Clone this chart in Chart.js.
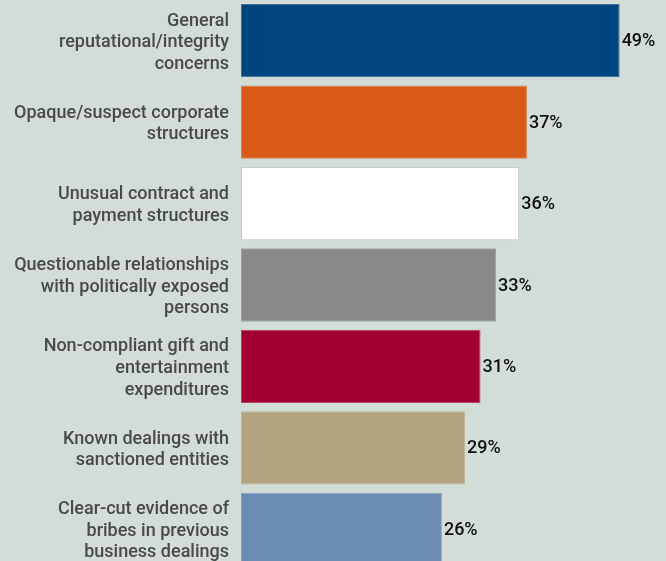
<!DOCTYPE html>
<html>
<head>
<meta charset="utf-8">
<script src="https://cdn.jsdelivr.net/npm/chart.js@4/dist/chart.umd.min.js"></script>
<style>
  html, body { margin: 0; padding: 0; background: #d3ddd8; overflow: hidden; }
  #wrap { position: relative; width: 666px; height: 570px; }
</style>
</head>
<body>
<div id="wrap"><canvas id="c" width="666" height="570"></canvas></div>
<script>
// Red-flag categories (multi-line labels) and share of respondents, in percent
const categories = [
  ["General", "reputational/integrity", "concerns"],
  ["Opaque/suspect corporate", "structures"],
  ["Unusual contract and", "payment structures"],
  ["Questionable relationships", "with politically exposed", "persons"],
  ["Non-compliant gift and", "entertainment", "expenditures"],
  ["Known dealings with", "sanctioned entities"],
  ["Clear-cut evidence of", "bribes in previous", "business dealings"]
];
const shares = [49, 37, 36, 33, 31, 29, 26];
const barColors = ["#00457f", "#d95919", "#ffffff", "#898989", "#a10031", "#b3a27f", "#6b8ab4"];
const edgeColors = ["#3f6e98", "#e07a45", "#c6cbc8", "#a0a3a1", "#b84460", "#c2b596", "#8aa1c2"];

// Writes "NN%" just past the end of each bar
const valueLabels = {
  id: "valueLabels",
  afterDatasetsDraw(chart) {
    const ctx = chart.ctx;
    const meta = chart.getDatasetMeta(0);
    ctx.save();
    ctx.font = "500 18px Roboto";
    ctx.fillStyle = "#111111";
    ctx.textAlign = "left";
    ctx.textBaseline = "middle";
    meta.data.forEach((bar, i) => {
      ctx.fillText(shares[i] + "%", bar.x + 2, bar.y + 1);
    });
    ctx.restore();
  }
};

new Chart(document.getElementById("c"), {
  type: "bar",
  data: {
    labels: categories,
    datasets: [{
      data: shares,
      backgroundColor: barColors,
      borderColor: edgeColors,
      borderWidth: 1,
      borderSkipped: false,
      categoryPercentage: 1,
      barPercentage: 0.9
    }]
  },
  options: {
    indexAxis: "y",
    responsive: false,
    animation: false,
    layout: { padding: 0 },
    plugins: { legend: { display: false }, tooltip: { enabled: false } },
    scales: {
      x: { display: false, min: 0, max: 55 },
      y: {
        grid: { display: false, drawTicks: false },
        border: { display: false },
        afterFit(scale) {
          scale.width = 241;
          scale.paddingTop = 0;
          scale.paddingBottom = 0;
        },
        ticks: {
          padding: 12,
          labelOffset: 2,
          color: "#494949",
          font: { family: "Roboto", size: 18, weight: "500", lineHeight: 1.2 }
        }
      }
    }
  },
  plugins: [valueLabels]
});
</script>
</body>
</html>
